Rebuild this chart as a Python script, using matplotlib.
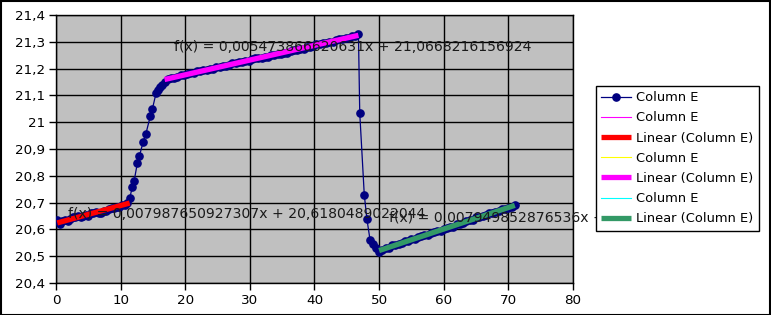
import numpy as np
import matplotlib
matplotlib.use("Agg")
import matplotlib.pyplot as plt
from matplotlib.patches import Rectangle

# ---- data ----
x_seg1 = [0.2, 0.6, 1.0, 1.4, 1.8, 2.2, 2.6, 3.0, 3.4, 3.8, 4.2, 4.6, 5.0, 5.4, 5.8,
          6.2, 6.6, 7.0, 7.4, 7.8, 8.2, 8.6, 9.0, 9.4, 9.8, 10.2, 10.6, 11.0, 11.4]
y_seg1 = [20.635, 20.620, 20.630, 20.635, 20.630, 20.640, 20.645, 20.645, 20.650, 20.645,
          20.650, 20.655, 20.650, 20.660, 20.660, 20.665, 20.660, 20.660, 20.670, 20.670,
          20.675, 20.680, 20.680, 20.685, 20.685, 20.690, 20.690, 20.700, 20.716]

x_rise = [11.8, 12.1, 12.6, 12.9, 13.5, 13.9, 14.6, 14.9, 15.5, 15.8, 16.1, 16.4]
y_rise = [20.757, 20.782, 20.849, 20.874, 20.927, 20.956, 21.023, 21.048, 21.110, 21.120,
          21.130, 21.140]

x_seg2 = [16.8, 17.3, 17.8, 18.3, 18.8, 19.3, 19.8, 20.3, 20.8, 21.3, 21.8, 22.3, 22.8,
          23.3, 23.8, 24.3, 24.8, 25.3, 25.8, 26.3, 26.8, 27.3, 27.8, 28.3, 28.8, 29.3,
          29.8, 30.3, 30.8, 31.3, 31.8, 32.3, 32.8, 33.3, 33.8, 34.3, 34.8, 35.3, 35.8,
          36.3, 36.8, 37.3, 37.8, 38.3, 38.8, 39.3, 39.8, 40.3, 40.8, 41.3, 41.8, 42.3,
          42.8, 43.3, 43.8, 44.3, 44.8, 45.3, 45.8, 46.3, 46.8]
y_seg2 = [21.150, 21.160, 21.165, 21.165, 21.170, 21.175, 21.175, 21.180, 21.185, 21.185,
          21.190, 21.190, 21.195, 21.195, 21.200, 21.200, 21.205, 21.205, 21.210, 21.210,
          21.215, 21.220, 21.220, 21.225, 21.225, 21.230, 21.230, 21.235, 21.240, 21.240,
          21.240, 21.245, 21.245, 21.250, 21.250, 21.255, 21.255, 21.260, 21.260, 21.265,
          21.270, 21.270, 21.275, 21.275, 21.280, 21.280, 21.285, 21.290, 21.290, 21.295,
          21.295, 21.300, 21.300, 21.305, 21.310, 21.310, 21.315, 21.315, 21.320, 21.320,
          21.330]

x_drop = [47.0, 47.7, 48.1, 48.6, 49.0, 49.5]
y_drop = [21.035, 20.730, 20.640, 20.560, 20.545, 20.530]

x_seg3 = [50.0, 50.5, 51.0, 51.5, 52.0, 52.5, 53.0, 53.5, 54.0, 54.5, 55.0, 55.5, 56.0,
          56.5, 57.0, 57.5, 58.0, 58.5, 59.0, 59.5, 60.0, 60.5, 61.0, 61.5, 62.0, 62.5,
          63.0, 63.5, 64.0, 64.5, 65.0, 65.5, 66.0, 66.5, 67.0, 67.5, 68.0, 68.5, 69.0,
          69.5, 70.0, 70.5, 71.0]
y_seg3 = [20.517, 20.525, 20.530, 20.530, 20.540, 20.540, 20.545, 20.550, 20.555, 20.555,
          20.565, 20.565, 20.570, 20.575, 20.580, 20.580, 20.585, 20.590, 20.595, 20.595,
          20.600, 20.605, 20.610, 20.610, 20.620, 20.620, 20.625, 20.630, 20.635, 20.635,
          20.645, 20.645, 20.650, 20.655, 20.660, 20.660, 20.665, 20.670, 20.675, 20.675,
          20.680, 20.685, 20.690]

eq_labels = ["f(x) = 0,007987650927307x + 20,6180489022044",
             "f(x) = 0,005473866620631x + 21,0668216156924",
             "f(x) = 0,007949852876536x + 20,1264325127301"]
eq_pos = [(1.8, 20.658), (18.2, 21.282), (51.6, 20.641)]

x_ticks = [0, 10, 20, 30, 40, 50, 60, 70, 80]
y_ticks = [20.4, 20.5, 20.6, 20.7, 20.8, 20.9, 21.0, 21.1, 21.2, 21.3, 21.4]
y_tick_labels = ["20,4", "20,5", "20,6", "20,7", "20,8", "20,9", "21", "21,1", "21,2", "21,3", "21,4"]

series_name = "Column E"
trend_name = "Linear (Column E)"

# ---- figure ----
W, H, DPI = 771, 315, 100
fig = plt.figure(figsize=(W / DPI, H / DPI), dpi=DPI)
fig.patch.set_facecolor("white")
ax = fig.add_axes([56 / W, 1 - 283 / H, (573 - 56) / W, (283 - 15) / H])
ax.set_facecolor("#c0c0c0")

FS_TICK = 9.7
FS_EQ = 10.1
FS_LEG = 9.4
navy = "#000080"

x_all = x_seg1 + x_rise + x_seg2 + x_drop + x_seg3
y_all = y_seg1 + y_rise + y_seg2 + y_drop + y_seg3

# hidden sub-series (covered by main series)
sub_colors = ["#ff00ff", "#ffff00", "#00ffff"]
trend_colors = ["#ff0000", "#ff00ff", "#339966"]
segs = [(x_seg1, y_seg1), (x_seg2, y_seg2), (x_seg3, y_seg3)]

h_main, = ax.plot(x_all, y_all, color=navy, lw=0.9, marker="o", ms=5.2,
                  mfc=navy, mec=navy, zorder=4, label=series_name)

handles = [h_main]
for (xs, ys), sc, tc in zip(segs, sub_colors, trend_colors):
    hs, = ax.plot(xs, ys, color=sc, lw=0.8, zorder=2, label=series_name)
    k, b = np.polyfit(xs, ys, 1)
    xx = np.array([min(xs), max(xs)])
    ht, = ax.plot(xx, k * xx + b, color=tc, lw=3.8, zorder=5, label=trend_name,
                  solid_capstyle="butt")
    handles += [hs, ht]

for lab, (px, py) in zip(eq_labels, eq_pos):
    ax.text(px, py, lab, fontsize=FS_EQ, color="#1a1a1a", va="center", ha="left",
            zorder=6, clip_on=False)

ax.set_xlim(0, 80)
ax.set_ylim(20.4, 21.4)
ax.set_xticks(x_ticks)
ax.set_yticks(y_ticks)
ax.set_yticklabels(y_tick_labels)
ax.tick_params(axis="both", labelsize=FS_TICK, length=5, width=1, color="black",
               direction="out", pad=3)
ax.grid(True, color="black", lw=1, zorder=1)
ax.set_axisbelow(True)
for s in ax.spines.values():
    s.set_color("black")
    s.set_linewidth(1)

leg = fig.legend(handles=handles, loc="upper left",
                 bbox_to_anchor=(596 / W, 1 - 86 / H), bbox_transform=fig.transFigure,
                 fontsize=FS_LEG, frameon=True, fancybox=False, framealpha=1,
                 edgecolor="black", borderaxespad=0, borderpad=0.4,
                 handlelength=2.3, handletextpad=0.4, labelspacing=0.55)
leg.get_frame().set_linewidth(1)
leg.set_zorder(10)

fig.add_artist(Rectangle((0.5 / W, 0.5 / H), 1 - 1.5 / W, 1 - 1.5 / H,
                         transform=fig.transFigure, fill=False, edgecolor="black", lw=1.5))

fig.savefig("out.png", dpi=DPI)
